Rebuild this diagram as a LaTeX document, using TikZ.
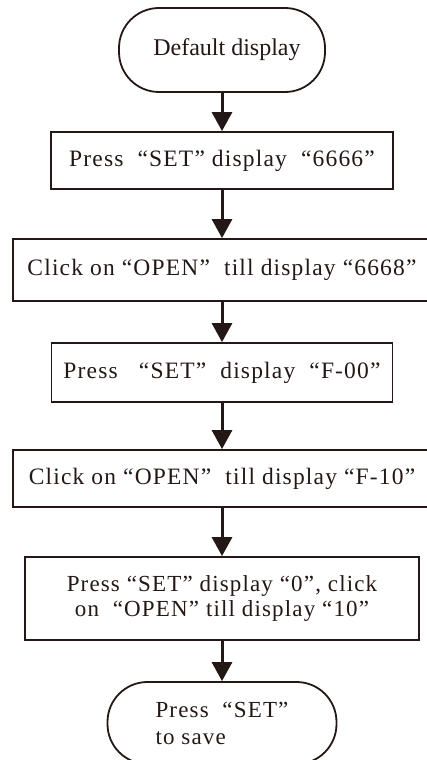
\documentclass[tikz,border=0pt]{standalone}
\usepackage{fontspec}
\setmainfont[LetterSpace=5]{Liberation Serif}
\newfontfamily\plainfont{Liberation Serif}
\usetikzlibrary{arrows.meta}
\definecolor{ink}{HTML}{231815}
\begin{document}
\begin{tikzpicture}[x=1pt,y=-1pt,
  box/.style={draw=ink,line width=1.8pt,rectangle,inner sep=0pt,text=ink,
    font=\fontsize{23.5}{26}\selectfont},
  term/.style={box,rounded corners=40pt},
  arr/.style={draw=ink,line width=3pt,-{Triangle[width=20pt,length=19pt]}}]
\useasboundingbox (0,0) rectangle (427,760);
\clip (0,0) rectangle (427,760);
\node[term,minimum width=206pt,minimum height=84pt,
  font=\plainfont\fontsize{24}{26}\selectfont] (t1) at (222,50)
  {\hspace{10pt}Default display};
\node[box,minimum width=342pt,minimum height=57pt] (b2) at (222,160.5)
  {Press~~“SET” display~~“6666”};
\node[box,minimum width=418pt,minimum height=62pt] (b3) at (222,270)
  {Click on “OPEN”~~till display~“6668”};
\node[box,minimum width=341pt,minimum height=59pt] (b4) at (222,372.5)
  {Press~~~“SET”~~display~~“F-00”};
\node[box,minimum width=418pt,minimum height=57pt] (b5) at (222,478.5)
  {Click on “OPEN”~~till display~“F-10”};
\node[box,minimum width=394pt,minimum height=83pt,align=center,
  font=\fontsize{23}{25}\selectfont] (b6) at (222,598.5)
  {Press “SET” display “0”, click\\on~~“OPEN” till display “10”};
\node[term,minimum width=229pt,minimum height=82pt,align=left,
  font=\fontsize{23}{27}\selectfont] (t2) at (222,723)
  {Press~~“SET”\\to save};
\draw[arr] (t1.south) -- (b2.north);
\draw[arr] (b2.south) -- (b3.north);
\draw[arr] (b3.south) -- (b4.north);
\draw[arr] (b4.south) -- (b5.north);
\draw[arr] (b5.south) -- (b6.north);
\draw[arr] (b6.south) -- (t2.north);
\end{tikzpicture}
\end{document}
